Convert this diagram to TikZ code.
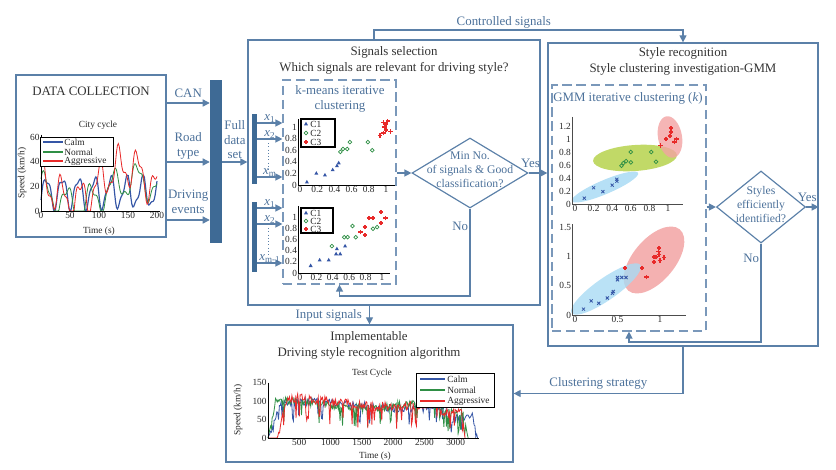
\documentclass[tikz,border=0pt]{standalone}
\usepackage{fontspec}
\setmainfont{Liberation Serif}
\usetikzlibrary{arrows.meta,fit,shapes.geometric}

\definecolor{lineblue}{HTML}{5B80A8}
\definecolor{dashblue}{HTML}{7A98BA}
\definecolor{lbltxt}{HTML}{4C719A}
\definecolor{barblue}{HTML}{3E6A95}
\definecolor{cCalm}{HTML}{3556A6}
\definecolor{cNorm}{HTML}{2F8F45}
\definecolor{cAggr}{HTML}{E82A2A}
\definecolor{ellB}{HTML}{A9DBF4}
\definecolor{ellG}{HTML}{B6D24C}
\definecolor{ellR}{HTML}{F2A3A3}

\tikzset{
  box/.style={draw=lineblue, line width=1.1pt, inner sep=0pt},
  dbox/.style={draw=dashblue, line width=1pt, dash pattern=on 8pt off 4pt, inner sep=0pt},
  databar/.style={fill=barblue, inner sep=0pt},
  decision/.style={diamond, draw=lineblue, line width=1pt, inner sep=0pt},
  flow/.style={lineblue, line width=1.1pt, -{Triangle[length=6pt,width=6pt]}},
  lbl/.style={text=lbltxt, font=\fontsize{11}{12.5}\selectfont, align=center, inner sep=1pt},
  ttl/.style={text=black!80, font=\fontsize{11}{13.7}\selectfont, align=center},
  qtxt/.style={text=lbltxt, font=\fontsize{10}{12}\selectfont, align=center},
  tk/.style={text=black!85, font=\fontsize{8}{9}\selectfont, inner sep=1pt},
}

% scatter markers
\newcommand{\mkA}[1]{\fill[cCalm] #1 ++(0pt,1.9pt) -- ++(-1.7pt,-3pt) -- ++(3.4pt,0pt) -- cycle;}
\newcommand{\mkB}[1]{\draw[cNorm, line width=0.6pt] #1 circle (1.6pt);}
\newcommand{\mkC}[1]{\draw[cAggr, line width=1.3pt] #1 ++(-1.9pt,0pt) -- ++(3.8pt,0pt) #1 ++(0pt,-1.9pt) -- ++(0pt,3.8pt);}
\newcommand{\mkX}[1]{\draw[cCalm, line width=0.7pt] #1 ++(-1.3pt,-1.3pt) -- ++(2.6pt,2.6pt) #1 ++(-1.3pt,1.3pt) -- ++(2.6pt,-2.6pt);}

\begin{document}
\begin{tikzpicture}[x=0.03cm, y=-0.03cm]
\useasboundingbox (0,0) rectangle (836,469);

% blocks
\node[box, fit={(16,75) (166,237)}] (dc) {};
\node[databar, fit={(210,80) (222,243)}] (fulld) {};
\node[box, fit={(248,40) (540,305)}] (ss) {};
\node[dbox, fit={(283,80) (396,284)}] (km) {};
\node[databar, fit={(252,114) (257,184)}] (sbarA) {};
\node[databar, fit={(252,202) (257,272)}] (sbarB) {};
\node[decision, minimum width=116*0.03cm, minimum height=70*0.03cm] (q1) at (470,173) {};
\node[box, fit={(548,43) (818,346)}] (sr) {};
\node[dbox, fit={(552,85) (706,331)}] (gm) {};
\node[decision, minimum width=89*0.03cm, minimum height=72*0.03cm] (q2) at (761,207) {};
\node[box, fit={(226,325) (513,462)}] (impl) {};

% titles
\node[ttl] at (91,91) {DATA COLLECTION};
\node[ttl] at (394,60) {Signals selection\\Which signals are relevant for driving style?};
\node[ttl] at (683,61.5) {Style recognition\\Style clustering investigation-GMM};
\node[ttl] at (369,345.5) {Implementable\\Driving style recognition algorithm};
\node[lbl] at (340,99) {k-means iterative\\clustering};
\node[lbl] at (628,98) {GMM iterative clustering (\textit{k})};
\node[qtxt] at (470,170) {Min No.\\of signals \& Good\\classification?};
\node[qtxt] at (761,204.5) {Styles\\efficiently\\identified?};

% connectors
\draw[flow] (dc.east |- 0,103) -- (fulld.west |- 0,103) node[lbl, midway, above=3pt] {CAN};
\draw[flow] (dc.east |- 0,162) -- (fulld.west |- 0,162) node[lbl, midway, above=1pt] {Road\\type};
\draw[flow] (dc.east |- 0,220) -- (fulld.west |- 0,220) node[lbl, midway, above=4pt] {Driving\\events};
\draw[flow] (fulld.east |- 0,162) -- (ss.west |- 0,162) node[lbl, midway, above=1pt] {Full\\data\\set};
\foreach \yy/\ii in {123/1,139/2,177/m}
  \draw[flow] (sbarA.east |- 0,\yy) -- (km.west |- 0,\yy) node[lbl, midway, above=-1pt] {\textit{x}\textsubscript{\ii}};
\foreach \yy/\ii in {208/1,224/2,263/{m-1}}
  \draw[flow] (sbarB.east |- 0,\yy) -- (km.west |- 0,\yy) node[lbl, midway, above=-1pt] {\textit{x}\textsubscript{\ii}};
\draw[lineblue, dotted, line width=0.8pt] (268,143) -- (268,170) (268,228) -- (268,256);
\draw[flow] (km.east |- q1.west) -- (q1.west);
\draw[flow] (q1.east) -- (sr.west |- q1.east) node[lbl, pos=0.1, above=3pt] {Yes};
\draw[flow] (q1.south) -- node[lbl, pos=0.2, left] {No} (470,296) -| (km.south);
\draw[flow] (gm.east |- q2.west) -- (q2.west);
\draw[flow] (q2.east) -- (sr.east |- q2.east) node[lbl, pos=0.1, above=3pt] {Yes};
\draw[flow] (q2.south) -- node[lbl, pos=0.15, left] {No} (761,342) -| (gm.south);
\draw[flow] (ss.north -| 374,0) -- (374,30) -| node[lbl, pos=0.21, above] {Controlled signals} (sr.north);
\draw[flow] (ss.south -| impl.north) -- (impl.north) node[lbl, midway, left=5pt] {Input signals};
\draw[flow] (sr.south) |- (impl.east) node[lbl, pos=0.75, above=2pt] {Clustering strategy};

% city cycle plot
\node[tk] at (98,125) {City cycle};
\node[tk] at (99,231) {Time (s)};
\node[tk, rotate=90] at (22,173) {Speed (km/h)};
\begin{scope}[shift={(41,211)}, x=0.0174cm, y=0.037cm]
  \draw[cCalm, line width=1pt] plot[domain=0:200, samples=130] (\x,{max(0,min(29,15+12*sin(13*\x-30)+4*sin(27*\x)))});
  \draw[cNorm, line width=0.7pt] plot[domain=0:200, samples=130] (\x,{max(0,15+12*sin(9*\x+40)+4*sin(23*\x)+10*sin(1.8*\x-200))});
  \draw[cAggr, line width=0.7pt] plot[domain=0:200, samples=130] (\x,{max(0,22+14*sin(11*\x+60)+6*sin(25*\x+10)+14*sin(2*\x-200))});
  \draw[line width=0.5pt] (0,62) -- (0,0) -- (205,0);
  \foreach \tv in {0,50,100,150,200} {\node[tk, below] at (\tv,0) {\tv};}
  \foreach \tv in {0,20,40,60} {\node[tk, left] at (0,\tv) {\tv};}
\end{scope}
\draw[line width=0.8pt, fill=white] (40,137) rectangle (113,166);
\foreach \cc/\nn/\yy in {cCalm/Calm/142, cNorm/Normal/152, cAggr/Aggressive/161} {
  \draw[\cc, line width=0.9pt] (43,\yy) -- (63,\yy);
  \node[tk, right] at (63,\yy) {\nn};
}

% k-means scatter, upper
\begin{scope}[shift={(300,185)}, x=2.58cm, y=1.74cm]
  \draw[line width=0.6pt] (-0.02,1.14) -- (-0.02,0) -- (1.1,0);
  \foreach \tv in {0,0.2,0.4,0.6,0.8,1} {
    \node[tk, below] at (\tv,0) {\tv};
    \node[tk, left] at (-0.02,\tv) {\tv};
  }
  \foreach \a/\b in {0.08/0.05,0.19/0.2,0.29/0.17,0.38/0.26,0.43/0.33,0.45/0.38} {\mkA{(\a,\b)}}
  \foreach \a/\b in {0.47/0.57,0.5/0.62,0.55/0.62,0.58/0.74,0.79/0.74,0.84/0.6} {\mkB{(\a,\b)}}
  \foreach \a/\b in {0.93/0.85,0.97/0.9,1.0/0.95,1.05/0.92,0.98/1.0,1.0/1.05,1.02/1.1,0.97/1.08} {\mkC{(\a,\b)}}
\end{scope}
\draw[line width=0.9pt, fill=white] (301,119) rectangle (335,147);
\mkA{(306,124)} \mkB{(306,133)} \mkC{(306,142)}
\foreach \nn/\yy in {C1/124,C2/133,C3/142} {\node[tk, right] at (309,\yy) {\nn};}

% k-means scatter, lower
\begin{scope}[shift={(300,273)}, x=2.46cm, y=1.68cm]
  \draw[line width=0.6pt] (-0.02,1.2) -- (-0.02,0) -- (1.1,0);
  \foreach \tv in {0,0.2,0.4,0.6,0.8,1} {
    \node[tk, below] at (\tv,0) {\tv};
    \node[tk, left] at (-0.02,\tv) {\tv};
  }
  \foreach \a/\b in {0.13/0.13,0.24/0.23,0.35/0.23,0.44/0.34,0.49/0.34,0.45/0.43,0.55/0.48} {\mkA{(\a,\b)}}
  \foreach \a/\b in {0.39/0.48,0.54/0.64,0.58/0.64,0.64/0.84,0.68/0.64,0.89/0.79,0.94/0.82} {\mkB{(\a,\b)}}
  \foreach \a/\b in {0.74/0.73,0.79/0.68,0.79/0.82,0.84/0.98,0.89/0.98,0.99/1.09,0.99/0.89,1.04/0.98} {\mkC{(\a,\b)}}
\end{scope}
\draw[line width=0.9pt, fill=white] (301,208) rectangle (333,233);
\mkA{(306,213)} \mkB{(306,221)} \mkC{(306,229)}
\foreach \nn/\yy in {C1/213,C2/221,C3/229} {\node[tk, right] at (309,\yy) {\nn};}

% GMM clusters, upper
\fill[ellB, opacity=0.85, rotate around={23:(605,187)}] (605,187) ellipse [x radius=36, y radius=7];
\fill[ellG, opacity=0.85, rotate around={4:(635,158)}] (635,158) ellipse [x radius=42, y radius=13];
\fill[ellR, opacity=0.8, rotate around={100:(670,137)}] (670,137) ellipse [x radius=21, y radius=12];
\begin{scope}[shift={(575,204)}, x=2.79cm, y=1.95cm]
  \draw[black!70, line width=0.5pt] (-0.03,1.34) -- (-0.03,0) -- (1.16,0);
  \foreach \tv in {0,0.2,0.4,0.6,0.8,1} {\node[tk, below] at (\tv,0) {\tv};}
  \foreach \tv in {0,0.2,0.4,0.6,0.8,1,1.2} {\node[tk, left] at (-0.03,\tv) {\tv};}
  \foreach \a/\b in {0.1/0.09,0.2/0.25,0.3/0.19,0.4/0.29,0.45/0.35,0.45/0.38} {\mkX{(\a,\b)}}
  \foreach \a/\b in {0.5/0.59,0.52/0.63,0.55/0.66,0.6/0.64,0.6/0.8,0.82/0.8,0.87/0.65} {\mkB{(\a,\b)}}
  \foreach \a/\b in {0.92/0.9,0.98/1.0,1.03/1.17,1.03/1.11,1.02/1.05,1.07/0.95,1.09/1.0} {\mkC{(\a,\b)}}
\end{scope}

% GMM clusters, lower
\fill[ellR, opacity=0.85, rotate around={50:(654,260)}] (654,260) ellipse [x radius=40, y radius=21];
\fill[ellB, opacity=0.8, rotate around={35:(606,289)}] (606,289) ellipse [x radius=42, y radius=11];
\begin{scope}[shift={(575,315)}, x=2.55cm, y=1.76cm]
  \draw[black!70, line width=0.5pt] (-0.03,1.55) -- (-0.03,0) -- (1.3,0);
  \foreach \tv in {0,0.5,1} {\node[tk, below] at (\tv,0) {\tv};}
  \foreach \tv in {0,0.5,1,1.5} {\node[tk, left] at (-0.03,\tv) {\tv};}
  \foreach \a/\b in {0.1/0.1,0.19/0.24,0.28/0.2,0.38/0.29,0.44/0.37,0.45/0.4,0.5/0.6,0.5/0.64,0.55/0.64,0.6/0.64} {\mkX{(\a,\b)}}
  \foreach \a/\b in {0.59/0.8,0.79/0.8,0.84/0.65,0.93/0.9,0.95/0.99,0.99/1.03,0.99/1.14,0.98/1.08,1.0/0.93,1.05/0.98,0.93/0.99} {\mkC{(\a,\b)}}
\end{scope}

% test cycle plot
\node[tk] at (372,373) {Test Cycle};
\node[tk] at (375,456) {Time (s)};
\node[tk, rotate=90] at (238,410) {Speed (km/h)};
\pgfmathsetseed{3}
\begin{scope}[shift={(268,438)}, x=0.001884cm, y=0.0111cm]
  \draw[cCalm, line width=0.7pt] plot[domain=0:3350, samples=240] (\x,{max(0,min(1,\x/200)*min(1,(3350-\x)/80)*(88+10*sin(0.12*\x)+10*rand-40*(rnd>0.88)-35*(\x>2850)))});
  \draw[cNorm, line width=0.7pt] plot[domain=0:3200, samples=240] (\x,{max(0,min(1,\x/120)*min(1,(3200-\x)/80)*(90+10*sin(0.15*\x+40)+10*rand-45*(rnd>0.88)-30*(\x>2800)))});
  \draw[cAggr, line width=0.7pt] plot[domain=0:3150, samples=240] (\x,{max(0,min(1,max(0,\x-150)/150)*min(1,(3150-\x)/60)*(98+12*sin(0.1*\x+80)+12*rand-50*(rnd>0.9)-30*(\x>2750)))});
  \draw[line width=0.5pt] (0,150) -- (0,0) -- (3380,0);
  \foreach \tv in {500,1000,...,3000} {\node[tk, below] at (\tv,0) {\tv};}
  \foreach \tv in {0,50,100,150} {\node[tk, left] at (0,\tv) {\tv};}
\end{scope}
\draw[line width=0.8pt, fill=white] (416,373) rectangle (494,407);
\foreach \cc/\nn/\yy in {cCalm/Calm/379, cNorm/Normal/390, cAggr/Aggressive/401} {
  \draw[\cc, line width=0.9pt] (420,\yy) -- (445,\yy);
  \node[tk, right] at (446,\yy) {\nn};
}
\end{tikzpicture}
\end{document}
